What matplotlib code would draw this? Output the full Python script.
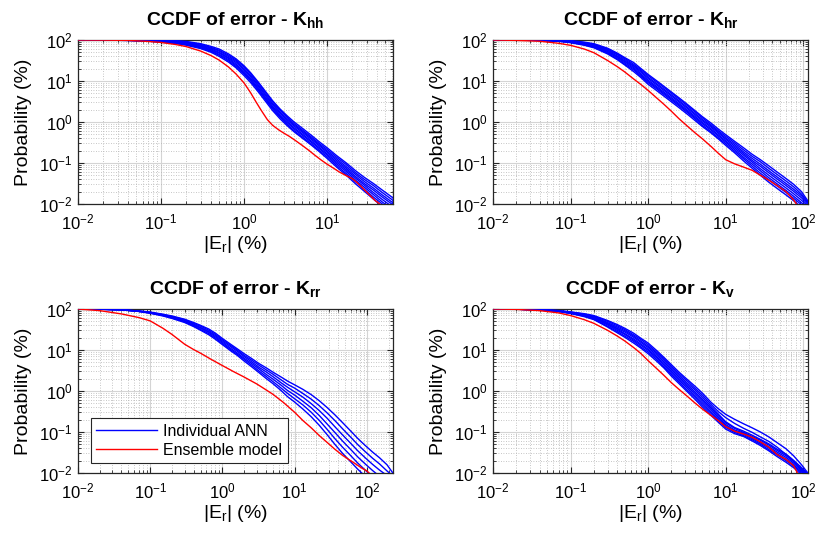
import matplotlib
matplotlib.use('Agg')
import matplotlib.pyplot as plt
import numpy as np
from matplotlib.ticker import FixedLocator, FixedFormatter, NullFormatter

plt.rcParams['font.family'] = ['Liberation Sans', 'DejaVu Sans']
plt.rcParams['mathtext.fontset'] = 'custom'
plt.rcParams['mathtext.rm'] = 'Liberation Sans'
plt.rcParams['mathtext.it'] = 'Liberation Sans:italic'
plt.rcParams['mathtext.bf'] = 'Liberation Sans:bold'

# ---------------- data (probabilities stored as log10 of %) ----------------
# ---- K_hh ----
khh_x = [0.01, 0.02, 0.04, 0.07, 0.1, 0.15, 0.2, 0.3, 0.4, 0.5, 0.65, 0.8, 1.0, 1.2, 1.5, 1.8,
         2.2, 2.7, 3.3, 4, 5, 6.5, 8, 10, 13, 17, 22, 28, 36, 46, 60, 70]
khh_ann_log10 = [
    [2.0, 1.998, 1.988, 1.971, 1.946, 1.914, 1.874, 1.79, 1.7, 1.6, 1.46, 1.32, 1.13, 0.96, 0.72, 0.51,
     0.28, 0.08, -0.09, -0.24, -0.39, -0.57, -0.72, -0.89, -1.1, -1.3, -1.51, -1.69, -1.88, -2.06, -2.23, -2.35],
    [2.0, 1.998, 1.99, 1.975, 1.953, 1.925, 1.888, 1.81, 1.72, 1.63, 1.49, 1.35, 1.17, 1.0, 0.76, 0.55,
     0.32, 0.12, -0.06, -0.21, -0.36, -0.54, -0.69, -0.85, -1.06, -1.26, -1.46, -1.64, -1.83, -2.0, -2.17, -2.29],
    [2.0, 1.998, 1.992, 1.979, 1.961, 1.935, 1.901, 1.825, 1.74, 1.65, 1.52, 1.38, 1.2, 1.03, 0.79, 0.58,
     0.35, 0.15, -0.02, -0.17, -0.32, -0.5, -0.65, -0.81, -1.02, -1.21, -1.42, -1.59, -1.77, -1.95, -2.12, -2.24],
    [2.0, 1.998, 1.993, 1.983, 1.968, 1.945, 1.914, 1.842, 1.76, 1.68, 1.55, 1.41, 1.23, 1.06, 0.82, 0.61,
     0.38, 0.18, 0.01, -0.14, -0.29, -0.47, -0.62, -0.78, -0.98, -1.17, -1.37, -1.54, -1.72, -1.89, -2.06, -2.18],
    [2.0, 1.998, 1.995, 1.987, 1.976, 1.955, 1.927, 1.858, 1.78, 1.7, 1.57, 1.45, 1.27, 1.1, 0.86, 0.65,
     0.42, 0.22, 0.05, -0.1, -0.25, -0.43, -0.58, -0.74, -0.94, -1.13, -1.33, -1.5, -1.66, -1.83, -2.0, -2.12],
    [2.0, 1.998, 1.996, 1.991, 1.983, 1.965, 1.939, 1.875, 1.8, 1.73, 1.6, 1.48, 1.3, 1.13, 0.89, 0.68,
     0.45, 0.25, 0.08, -0.07, -0.22, -0.4, -0.55, -0.71, -0.9, -1.09, -1.28, -1.45, -1.61, -1.78, -1.95, -2.07],
    [2.0, 1.999, 1.998, 1.995, 1.991, 1.976, 1.952, 1.893, 1.82, 1.75, 1.63, 1.51, 1.34, 1.17, 0.93, 0.72,
     0.49, 0.29, 0.12, -0.04, -0.19, -0.37, -0.52, -0.67, -0.86, -1.04, -1.24, -1.4, -1.55, -1.72, -1.89, -2.01],
    [2.0, 2.0, 2.0, 1.999, 1.998, 1.986, 1.966, 1.91, 1.844, 1.78, 1.66, 1.54, 1.37, 1.2, 0.96, 0.75,
     0.52, 0.32, 0.15, 0.0, -0.15, -0.33, -0.48, -0.63, -0.82, -1.0, -1.19, -1.35, -1.5, -1.66, -1.83, -1.95],
]
khh_ens_x = [0.01, 0.02, 0.04, 0.07, 0.1, 0.15, 0.2, 0.3, 0.4, 0.5, 0.65, 0.8, 1.0, 1.2, 1.4, 1.6,
             1.9, 2.2, 2.6, 3.0, 3.5, 4.2, 5, 6, 7, 8.5, 10, 12, 14, 17, 20, 23, 27, 32, 38, 45, 50]
khh_ens_log10 = [2.0, 1.997, 1.99, 1.965, 1.94, 1.89, 1.84, 1.73, 1.62, 1.51, 1.34, 1.17, 0.95, 0.71,
                 0.48, 0.29, 0.06, -0.08, -0.19, -0.27, -0.35, -0.46, -0.57, -0.69, -0.8, -0.93, -1.03,
                 -1.13, -1.22, -1.31, -1.38, -1.48, -1.62, -1.77, -1.92, -2.03, -2.1]

# ---- K_hr ----
khr_x = [0.01, 0.02, 0.04, 0.07, 0.1, 0.15, 0.2, 0.3, 0.4, 0.5, 0.65, 0.8, 1.0, 1.3, 1.6, 2,
         2.5, 3.2, 4, 5, 6.5, 8, 10, 13, 17, 22, 28, 36, 46, 60, 75, 95, 120]
khr_ann_log10 = [
    [2.0, 1.998, 1.987, 1.968, 1.934, 1.872, 1.81, 1.66, 1.52, 1.39, 1.23, 1.09, 0.92, 0.76, 0.63, 0.49,
     0.35, 0.19, 0.04, -0.11, -0.27, -0.41, -0.57, -0.75, -0.95, -1.13, -1.3, -1.47, -1.62, -1.78, -1.92, -2.08, -2.25],
    [2.0, 1.998, 1.989, 1.972, 1.941, 1.883, 1.824, 1.68, 1.54, 1.41, 1.27, 1.12, 0.96, 0.8, 0.67, 0.53,
     0.39, 0.23, 0.08, -0.08, -0.24, -0.38, -0.53, -0.71, -0.9, -1.08, -1.25, -1.41, -1.56, -1.72, -1.86, -2.02, -2.19],
    [2.0, 1.998, 1.99, 1.976, 1.949, 1.894, 1.839, 1.7, 1.57, 1.44, 1.3, 1.15, 0.99, 0.83, 0.7, 0.56,
     0.42, 0.26, 0.11, -0.04, -0.2, -0.34, -0.49, -0.67, -0.86, -1.03, -1.19, -1.36, -1.51, -1.67, -1.81, -1.97, -2.14],
    [2.0, 1.998, 1.992, 1.98, 1.956, 1.905, 1.853, 1.72, 1.59, 1.47, 1.33, 1.18, 1.02, 0.86, 0.73, 0.59,
     0.45, 0.29, 0.14, -0.01, -0.17, -0.31, -0.46, -0.63, -0.81, -0.98, -1.14, -1.3, -1.45, -1.61, -1.75, -1.91, -2.08],
    [2.0, 1.998, 1.994, 1.984, 1.964, 1.915, 1.867, 1.74, 1.61, 1.49, 1.36, 1.22, 1.06, 0.9, 0.77, 0.63,
     0.49, 0.33, 0.18, 0.03, -0.13, -0.27, -0.42, -0.59, -0.77, -0.94, -1.08, -1.24, -1.39, -1.55, -1.69, -1.85, -2.05],
    [2.0, 1.998, 1.996, 1.988, 1.971, 1.926, 1.881, 1.76, 1.64, 1.52, 1.38, 1.25, 1.09, 0.93, 0.8, 0.66,
     0.52, 0.36, 0.21, 0.06, -0.1, -0.24, -0.39, -0.55, -0.73, -0.89, -1.03, -1.19, -1.34, -1.5, -1.64, -1.8, -2.02],
    [2.0, 1.998, 1.997, 1.992, 1.979, 1.937, 1.896, 1.78, 1.66, 1.55, 1.41, 1.28, 1.13, 0.97, 0.84, 0.7,
     0.56, 0.4, 0.25, 0.1, -0.07, -0.21, -0.35, -0.51, -0.68, -0.84, -0.97, -1.13, -1.28, -1.44, -1.58, -1.76, -2.0],
    [2.0, 1.999, 1.999, 1.996, 1.986, 1.948, 1.91, 1.8, 1.68, 1.57, 1.45, 1.31, 1.16, 1.0, 0.87, 0.73,
     0.59, 0.43, 0.28, 0.13, -0.03, -0.17, -0.31, -0.47, -0.63, -0.79, -0.92, -1.07, -1.22, -1.38, -1.52, -1.7, -1.98],
]
khr_ens_x = [0.01, 0.02, 0.04, 0.07, 0.1, 0.15, 0.2, 0.3, 0.4, 0.5, 0.65, 0.8, 1.0, 1.3, 1.6, 2,
             2.5, 3.2, 4, 5, 6.5, 8, 10, 13, 17, 22, 28, 36, 46, 60, 75, 85]
khr_ens_log10 = [2.0, 1.99, 1.97, 1.92, 1.87, 1.78, 1.69, 1.5, 1.35, 1.22, 1.05, 0.92, 0.77, 0.58,
                 0.43, 0.26, 0.08, -0.1, -0.26, -0.41, -0.6, -0.76, -0.92, -1.02, -1.1, -1.18,
                 -1.3, -1.42, -1.55, -1.7, -1.9, -2.05]

# ---- K_rr ----
krr_x = [0.01, 0.02, 0.04, 0.07, 0.1, 0.15, 0.2, 0.3, 0.4, 0.5, 0.65, 0.8, 1.0, 1.3, 1.6, 2,
         2.5, 3.2, 4, 5, 6.5, 8, 10, 13, 17, 22, 28, 36, 46, 60, 75, 95, 120, 150, 190, 240]
krr_ann_log10 = [
    [2.0, 1.995, 1.98, 1.94, 1.895, 1.83, 1.77, 1.67, 1.57, 1.48, 1.37, 1.26, 1.13, 0.98, 0.87, 0.73,
     0.6, 0.45, 0.31, 0.18, 0.01, -0.14, -0.27, -0.44, -0.63, -0.84, -1.06, -1.3, -1.52, -1.73, -1.91, -2.08,
     -2.24, -2.38, -2.51, -2.64],
    [2.0, 1.995, 1.98, 1.94, 1.9, 1.84, 1.78, 1.69, 1.59, 1.5, 1.4, 1.29, 1.16, 1.01, 0.9, 0.77,
     0.64, 0.49, 0.36, 0.23, 0.07, -0.06, -0.19, -0.34, -0.52, -0.72, -0.93, -1.16, -1.37, -1.58, -1.76, -1.93,
     -2.09, -2.23, -2.36, -2.49],
    [2.0, 1.995, 1.98, 1.944, 1.907, 1.846, 1.794, 1.7, 1.61, 1.53, 1.43, 1.32, 1.19, 1.04, 0.93, 0.8,
     0.68, 0.54, 0.41, 0.29, 0.14, 0.01, -0.1, -0.25, -0.41, -0.6, -0.8, -1.01, -1.22, -1.43, -1.61, -1.78,
     -1.94, -2.08, -2.21, -2.34],
    [2.0, 1.995, 1.98, 1.947, 1.913, 1.855, 1.806, 1.72, 1.63, 1.55, 1.45, 1.35, 1.22, 1.08, 0.97, 0.84,
     0.72, 0.58, 0.47, 0.35, 0.2, 0.09, -0.02, -0.15, -0.31, -0.48, -0.66, -0.87, -1.07, -1.28, -1.46, -1.63,
     -1.79, -1.93, -2.06, -2.19],
    [2.0, 1.995, 1.98, 1.95, 1.919, 1.864, 1.818, 1.74, 1.65, 1.58, 1.48, 1.38, 1.25, 1.11, 1.0, 0.87,
     0.76, 0.63, 0.52, 0.41, 0.27, 0.16, 0.07, -0.06, -0.2, -0.36, -0.53, -0.72, -0.92, -1.13, -1.31, -1.48,
     -1.64, -1.78, -1.95, -2.1],
    [2.0, 1.995, 1.98, 1.953, 1.925, 1.873, 1.83, 1.75, 1.67, 1.6, 1.51, 1.41, 1.28, 1.14, 1.03, 0.91,
     0.8, 0.67, 0.57, 0.46, 0.34, 0.24, 0.15, 0.04, -0.09, -0.24, -0.4, -0.58, -0.77, -0.98, -1.16, -1.33,
     -1.49, -1.63, -1.8, -2.05],
]
krr_ens_x = [0.01, 0.02, 0.04, 0.07, 0.1, 0.15, 0.2, 0.3, 0.4, 0.5, 0.7, 1.0, 1.4, 2, 3, 4, 5, 7,
             10, 13, 17, 22, 28, 36, 46, 55, 70, 85, 100, 115]
krr_ens_log10 = [2.0, 1.96, 1.88, 1.79, 1.71, 1.53, 1.38, 1.14, 1.01, 0.92, 0.77, 0.62, 0.48, 0.34,
                 0.17, 0.03, -0.08, -0.28, -0.52, -0.72, -0.9, -1.09, -1.25, -1.42, -1.57, -1.66,
                 -1.78, -1.88, -1.95, -2.05]

# ---- K_v ----
kv_x = [0.01, 0.02, 0.04, 0.07, 0.1, 0.15, 0.2, 0.3, 0.4, 0.5, 0.65, 0.8, 1.0, 1.3, 1.6, 2,
        2.5, 3.2, 4, 5, 6.5, 8, 10, 13, 17, 22, 28, 36, 46, 60, 75, 95, 120]
kv_ann_log10 = [
    [2.0, 1.995, 1.974, 1.938, 1.89, 1.814, 1.74, 1.56, 1.42, 1.31, 1.17, 1.05, 0.91, 0.72, 0.56, 0.36,
     0.18, -0.02, -0.2, -0.39, -0.6, -0.76, -0.93, -1.04, -1.11, -1.22, -1.33, -1.46, -1.6, -1.74, -1.87, -2.04, -2.22],
    [2.0, 1.995, 1.976, 1.942, 1.896, 1.825, 1.754, 1.58, 1.45, 1.34, 1.21, 1.08, 0.95, 0.76, 0.59, 0.4,
     0.22, 0.02, -0.15, -0.34, -0.55, -0.72, -0.89, -1.01, -1.09, -1.19, -1.3, -1.43, -1.56, -1.7, -1.83, -2.0, -2.19],
    [2.0, 1.995, 1.978, 1.945, 1.902, 1.835, 1.769, 1.61, 1.48, 1.38, 1.24, 1.12, 0.99, 0.8, 0.63, 0.44,
     0.26, 0.07, -0.11, -0.29, -0.51, -0.68, -0.85, -0.98, -1.06, -1.16, -1.27, -1.39, -1.53, -1.66, -1.8, -1.97, -2.15],
    [2.0, 1.995, 1.979, 1.948, 1.907, 1.845, 1.783, 1.63, 1.51, 1.4, 1.27, 1.15, 1.02, 0.83, 0.67, 0.48,
     0.3, 0.11, -0.06, -0.24, -0.46, -0.64, -0.82, -0.95, -1.03, -1.13, -1.24, -1.36, -1.49, -1.62, -1.76, -1.94, -2.12],
    [2.0, 1.995, 1.981, 1.952, 1.913, 1.855, 1.797, 1.65, 1.53, 1.44, 1.31, 1.19, 1.06, 0.87, 0.71, 0.52,
     0.34, 0.15, -0.02, -0.2, -0.42, -0.6, -0.78, -0.91, -1.01, -1.11, -1.2, -1.32, -1.45, -1.58, -1.72, -1.9, -2.08],
    [2.0, 1.995, 1.983, 1.955, 1.919, 1.865, 1.811, 1.67, 1.56, 1.47, 1.34, 1.22, 1.09, 0.91, 0.75, 0.56,
     0.38, 0.19, 0.03, -0.15, -0.38, -0.56, -0.75, -0.89, -0.98, -1.08, -1.18, -1.29, -1.42, -1.54, -1.69, -1.87, -2.05],
    [2.0, 1.995, 1.984, 1.958, 1.924, 1.875, 1.826, 1.7, 1.59, 1.5, 1.37, 1.26, 1.13, 0.94, 0.79, 0.6,
     0.42, 0.24, 0.07, -0.1, -0.33, -0.5, -0.65, -0.79, -0.91, -1.01, -1.12, -1.23, -1.37, -1.55, -1.72, -1.92, -2.1],
    [2.0, 1.995, 1.986, 1.962, 1.93, 1.886, 1.84, 1.72, 1.62, 1.53, 1.41, 1.29, 1.17, 0.98, 0.82, 0.64,
     0.46, 0.28, 0.12, -0.05, -0.28, -0.43, -0.57, -0.69, -0.8, -0.9, -1.0, -1.12, -1.26, -1.41, -1.58, -1.8, -2.05],
]
kv_ens_x = [0.01, 0.02, 0.04, 0.07, 0.1, 0.15, 0.2, 0.3, 0.4, 0.5, 0.65, 0.8, 1.0, 1.3, 1.6, 2,
            2.5, 3.2, 4, 5, 6.5, 8, 10, 13, 17, 22, 28, 36, 46, 60, 75, 85]
kv_ens_log10 = [2.0, 1.99, 1.96, 1.905, 1.84, 1.74, 1.65, 1.48, 1.34, 1.22, 1.06, 0.92, 0.74, 0.54,
                0.38, 0.2, 0.04, -0.13, -0.29, -0.44, -0.6, -0.72, -0.87, -0.98, -1.05, -1.13,
                -1.24, -1.37, -1.55, -1.67, -1.82, -2.02]

titles = [r'CCDF of error - K$_{\mathbf{hh}}$', r'CCDF of error - K$_{\mathbf{hr}}$',
          r'CCDF of error - K$_{\mathbf{rr}}$', r'CCDF of error - K$_{\mathbf{v}}$']
xmax = [62, 115, 230, 115]
xtick_vals = [[1e-2, 1e-1, 1e0, 1e1], [1e-2, 1e-1, 1e0, 1e1, 1e2],
              [1e-2, 1e-1, 1e0, 1e1, 1e2], [1e-2, 1e-1, 1e0, 1e1, 1e2]]
ytick_vals = [1e-2, 1e-1, 1e0, 1e1, 1e2]
legend_labels = ['Individual ANN', 'Ensemble model']

panels = [
    (khh_x, khh_ann_log10, khh_ens_x, khh_ens_log10),
    (khr_x, khr_ann_log10, khr_ens_x, khr_ens_log10),
    (krr_x, krr_ann_log10, krr_ens_x, krr_ens_log10),
    (kv_x, kv_ann_log10, kv_ens_x, kv_ens_log10),
]

# ---------------- figure ----------------
W, H = 816, 538
fig = plt.figure(figsize=(W / 100, H / 100), dpi=100)
positions = [
    [78 / W, 1 - 204 / H, 315 / W, 164 / H],
    [493 / W, 1 - 204 / H, 315 / W, 164 / H],
    [78 / W, 1 - 473 / H, 315 / W, 164 / H],
    [493 / W, 1 - 473 / H, 315 / W, 164 / H],
]

def tick_label(v):
    e = int(round(np.log10(v)))
    return r'$\mathregular{10^{%d}}$' % e

minor_vals = [m * 10.0 ** e for e in range(-3, 3) for m in range(2, 10)]

for i, (x, anns, ex, ens) in enumerate(panels):
    ax = fig.add_axes(positions[i])
    ax.set_xscale('log')
    ax.set_yscale('log')
    for j, curve in enumerate(anns):
        ax.plot(x, 10 ** np.array(curve), color=(0, 0, 1), lw=1.0,
                label=legend_labels[0] if j == 0 else None, zorder=3)
    ax.plot(ex, 10 ** np.array(ens), color=(1, 0, 0), lw=1.0, label=legend_labels[1], zorder=4)
    ax.set_xlim(0.01, xmax[i])
    ax.set_ylim(0.01, 100)

    ax.xaxis.set_major_locator(FixedLocator(xtick_vals[i]))
    ax.xaxis.set_major_formatter(FixedFormatter([tick_label(v) for v in xtick_vals[i]]))
    ax.yaxis.set_major_locator(FixedLocator(ytick_vals))
    ax.yaxis.set_major_formatter(FixedFormatter([tick_label(v) for v in ytick_vals]))
    ax.xaxis.set_minor_locator(FixedLocator(minor_vals))
    ax.yaxis.set_minor_locator(FixedLocator(minor_vals))
    ax.xaxis.set_minor_formatter(NullFormatter())
    ax.yaxis.set_minor_formatter(NullFormatter())

    ax.grid(True, which='major', color='#d4d4d4', lw=0.8, ls='-', zorder=0)
    ax.grid(True, which='minor', color='#b4b4b4', lw=0.6, ls=(0, (1, 2)), zorder=0)
    ax.set_axisbelow(True)

    ax.tick_params(which='both', direction='in', top=True, right=True, colors='#262626',
                   labelcolor='black', labelsize=12)
    ax.tick_params(which='major', length=4, width=0.8)
    ax.tick_params(which='minor', length=2.2, width=0.6)
    ax.tick_params(axis='x', which='major', pad=6)
    ax.tick_params(axis='y', which='major', pad=4)
    for s in ax.spines.values():
        s.set_color('#262626')
        s.set_linewidth(0.9)

    ax.set_title(titles[i], fontsize=14, fontweight='bold', pad=11)
    ax.set_xlabel(r'|E$_\mathregular{r}$| (%)', fontsize=14, labelpad=1)
    ax.set_ylabel('Probability (%)', fontsize=14, labelpad=5)

    if i == 2:
        leg = ax.legend(loc='lower left', bbox_to_anchor=(0.04, 0.06), fontsize=11.5,
                        handlelength=3.8, handletextpad=0.4, borderpad=0.35,
                        labelspacing=0.25, fancybox=False, framealpha=1, borderaxespad=0)
        leg.get_frame().set_edgecolor('#262626')
        leg.get_frame().set_linewidth(0.8)

fig.savefig('out.png', dpi=100)
